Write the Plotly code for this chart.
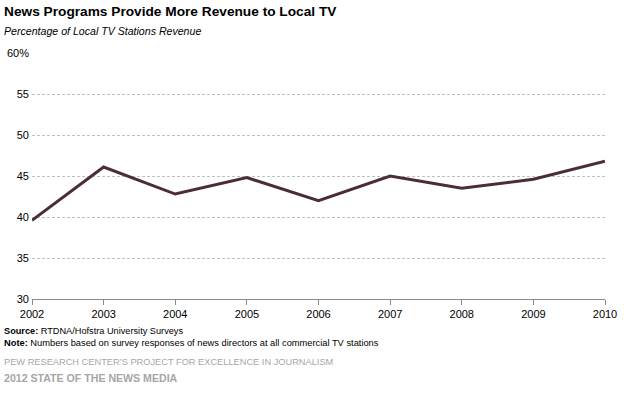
import plotly.graph_objects as go

years = [2002, 2003, 2004, 2005, 2006, 2007, 2008, 2009, 2010]
revenue_share = [39.6, 46.1, 42.8, 44.8, 42.0, 45.0, 43.5, 44.6, 46.8]
y_ticks = [30, 35, 40, 45, 50, 55, 60]
y_tick_labels = ["30", "35", "40", "45", "50", "55", "60%"]

FONT = "Liberation Sans, Arial, sans-serif"
W, H = 633, 396
ML, MR, MT, MB = 32, 28, 53, 97

fig = go.Figure()
fig.add_trace(go.Scatter(
    x=years, y=revenue_share, mode="lines",
    line=dict(color="#4b2d38", width=3),
    hoverinfo="x+y", showlegend=False,
))

plot_h = H - MT - MB
plot_w = W - ML - MR

def px_to_paper(px_x, px_y):
    return (px_x - ML) / plot_w, (H - MB - px_y) / plot_h

texts = [
    ("<b>News Programs Provide More Revenue to Local TV</b>", 2, 12, 13.7, "black"),
    ("<i>Percentage of Local TV Stations Revenue</i>", 2, 31, 10.6, "black"),
    ("<b>Source:</b> RTDNA/Hofstra University Surveys", 2, 331, 9.2, "black"),
    ("<b>Note:</b> Numbers based on survey responses of news directors at all commercial TV stations", 2, 343, 9.3, "black"),
    ("PEW RESEARCH CENTER\u2019S PROJECT FOR EXCELLENCE IN JOURNALISM", 2, 362, 9.25, "#a6a6a6"),
    ("<b>2012 STATE OF THE NEWS MEDIA</b>", 2, 378, 10.6, "#a6a6a6"),
]
anns = []
for t, px, py, size, color in texts:
    xx, yy = px_to_paper(px, py)
    anns.append(dict(text=t, x=xx, y=yy, xref="paper", yref="paper",
                     showarrow=False, xanchor="left", yanchor="middle",
                     font=dict(size=size, color=color, family=FONT)))

fig.update_layout(
    width=W, height=H,
    margin=dict(l=ML, r=MR, t=MT, b=MB, autoexpand=False),
    paper_bgcolor="white", plot_bgcolor="white",
    font=dict(family=FONT, size=11, color="black"),
    xaxis=dict(
        range=[2002, 2010], tickvals=years, ticktext=[str(y) for y in years],
        showgrid=False, zeroline=False, automargin=False,
        showline=True, linecolor="#888888", linewidth=1,
        ticks="outside", ticklen=5, tickcolor="#888888",
        tickfont=dict(size=11, color="black"), fixedrange=True,
    ),
    yaxis=dict(
        range=[30, 60], tickvals=y_ticks, ticktext=y_tick_labels,
        showgrid=True, gridcolor="#c0c0c0", griddash="3px,2px", gridwidth=1,
        zeroline=False, showline=False, ticks="", ticklabelstandoff=2,
        automargin=False,
        tickfont=dict(size=11, color="black"), fixedrange=True,
    ),
    annotations=anns,
)

fig.write_html("out.html", config={"displayModeBar": False},
               post_script="document.body.style.margin='0';")
